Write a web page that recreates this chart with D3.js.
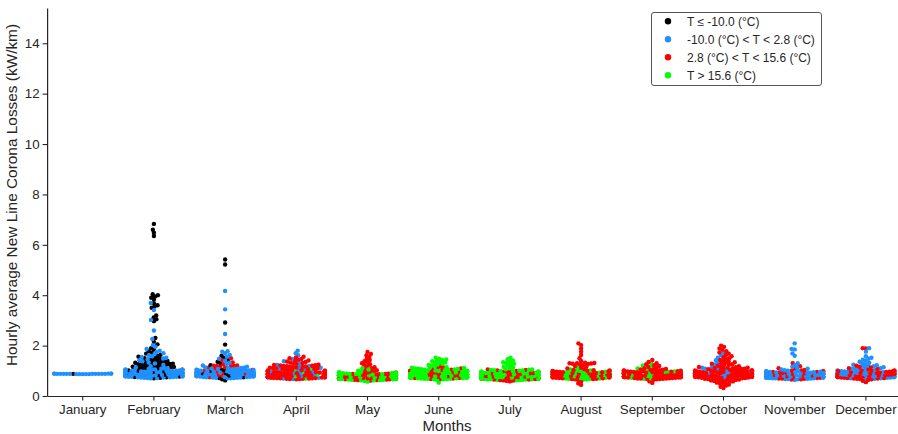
<!DOCTYPE html>
<html>
<head>
<meta charset="utf-8">
<script src="https://cdn.jsdelivr.net/npm/d3@7"></script>
<style>
  html, body { margin: 0; padding: 0; background: #fff; }
  svg { display: block; font-family: "Liberation Sans", Arial, sans-serif; }
</style>
</head>
<body>
<svg id="chart" width="898" height="434"></svg>
<script>
// Months on the category axis
const months = ["January", "February", "March", "April", "May", "June",
  "July", "August", "September", "October", "November", "December"];

// Temperature classes (legend order) and their colours
const classLabels = ["T \u2264 -10.0 (\u00B0C)", "-10.0 (\u00B0C) < T < 2.8 (\u00B0C)",
  "2.8 (\u00B0C) < T < 15.6 (\u00B0C)", "T > 15.6 (\u00B0C)"];
const classColors = ["#000000", "#1E90FF", "#FF0000", "#00FF00"];

const yTicks = [0, 2, 4, 6, 8, 10, 12, 14];

// Hourly average losses (kW/km), one list per month, for T <= -10.0 °C
const tLow = [
  [0.88],
  [0.70,0.72,0.74,0.75,0.77,0.80,0.83,0.85,0.89,0.90,0.93,0.96,0.98,1.01,1.04,1.07,1.09,
   1.10,1.12,1.13,1.15,1.16,1.17,1.19,1.20,1.21,1.22,1.24,1.25,1.26,1.27,1.28,1.30,1.31,1.32,1.34,1.35,
   1.37,1.39,1.41,1.43,1.45,1.48,1.50,1.53,1.56,1.60,1.64,1.68,1.72,1.78,1.84,1.90,2.05,2.15,2.30,
   2.97,3.05,3.12,3.20,3.50,3.55,3.60,3.68,3.83,3.90,3.95,4.00,4.04,6.35,6.48,6.60,6.83],
  [0.62,0.66,0.71,0.74,0.79,0.81,0.86,0.88,0.92,0.97,1.02,1.05,
   1.22,1.30,1.36,1.44,1.52,1.60,2.04,2.92,5.22,5.42],
  [], [], [], [], [], [], [], [], []
];

// -10.0 °C < T < 2.8 °C
const tCool = [
  [0.87,0.88,0.89,0.88,0.87,0.88,0.89,0.88,0.87,0.88,0.89,0.88,0.87,0.88,0.89,0.88,0.87,0.88,0.89,0.88],
  [0.70,0.71,0.71,0.72,0.73,0.73,0.74,0.74,0.75,0.76,0.76,0.76,0.77,0.78,0.78,0.79,0.79,0.80,0.81,0.81,
   0.82,0.82,0.82,0.83,0.84,0.84,0.85,0.85,0.86,0.87,0.87,0.88,0.88,0.88,0.89,0.89,0.90,0.91,0.91,0.92,
   0.92,0.93,0.94,0.94,0.94,0.95,0.95,0.96,0.97,0.97,0.98,0.99,0.99,1.00,1.00,1.01,1.02,1.02,1.03,1.04,
   1.05,1.05,1.06,1.07,1.08,1.09,1.10,
   1.14,1.18,1.23,1.29,1.33,1.38,1.42,1.46,1.49,1.52,1.55,1.58,1.62,1.66,1.70,1.75,1.80,1.87,1.95,2.02,
   2.26,2.60,3.02,3.41,3.69],
  [0.70,0.70,0.71,0.72,0.72,0.73,0.73,0.74,0.75,0.75,0.75,0.76,0.77,0.77,0.78,0.78,0.79,0.80,0.80,0.81,
   0.81,0.82,0.83,0.83,0.83,0.84,0.85,0.85,0.86,0.86,0.87,0.88,0.88,0.89,0.89,0.89,0.90,0.91,0.91,0.92,
   0.93,0.93,0.94,0.94,0.95,0.96,0.96,0.97,0.98,0.98,0.99,1.00,1.00,1.01,1.02,1.03,1.03,1.04,1.05,1.06,
   1.07,1.08,1.09,1.10,1.11,1.12,1.13,
   1.16,1.21,1.26,1.32,1.40,1.48,1.56,1.63,1.70,1.76,1.78,2.46,3.44,4.17],
  [0.67,0.69,0.72,0.74,0.77,0.80,0.83,0.85,0.89,0.91,0.94,0.96,0.99,1.02,1.05,1.08,1.12,1.15,1.19,1.23,
   1.30,1.38,1.46,1.62,1.70,1.80],
  [0.80],
  [], [], [], [],
  [0.72,0.75,0.80,0.83,0.87,0.89,0.92,0.97,0.99,1.01,1.06,1.08,1.12,1.14,1.25,1.33,1.42,1.52,1.62,1.72],
  [0.64,0.66,0.67,0.67,0.68,0.69,0.70,0.70,0.70,0.71,0.72,0.73,0.73,0.74,0.75,0.75,0.76,0.77,0.77,0.77,
   0.78,0.79,0.80,0.80,0.81,0.82,0.82,0.83,0.84,0.84,0.84,0.85,0.86,0.87,0.87,0.88,0.89,0.89,0.90,0.91,
   0.91,0.91,0.92,0.93,0.94,0.94,0.95,0.96,0.96,0.97,0.98,0.99,1.00,1.02,1.05,1.08,1.12,1.16,1.22,1.30,
   1.60,1.69,1.85,1.87,2.09],
  [0.68,0.69,0.70,0.70,0.72,0.73,0.74,0.74,0.75,0.77,0.78,0.78,0.80,0.81,0.82,0.82,0.84,0.85,0.86,0.86,
   0.88,0.89,0.90,0.90,0.92,0.93,0.94,0.94,0.96,0.97,0.98,0.98,1.00,1.01,1.02,
   1.04,1.06,1.08,1.10,1.12,1.14,1.16,1.18,1.20,1.22,1.24,1.26,1.29,1.32,1.36,1.40,1.44,1.48,1.52,1.58,
   1.76,1.90]
];

// 2.8 °C < T < 15.6 °C
const tMild = [
  [], [],
  [0.74,0.79,0.83,0.88,0.90,0.95,1.00,1.03,1.08,1.12,1.15,1.17,1.18,1.19,1.19,1.20,1.21,1.26,1.33,1.42,
   1.50],
  [0.66,0.67,0.67,0.68,0.68,0.69,0.70,0.70,0.71,0.71,0.71,0.72,0.73,0.73,0.74,0.75,0.75,0.76,0.76,0.76,
   0.77,0.78,0.78,0.79,0.79,0.80,0.81,0.81,0.82,0.82,0.82,0.83,0.84,0.84,0.85,0.86,0.86,0.87,0.87,0.88,
   0.88,0.88,0.89,0.90,0.90,0.91,0.92,0.92,0.93,0.93,0.93,0.94,0.95,0.95,0.96,0.97,0.97,0.98,0.98,0.99,
   1.00,1.00,1.01,1.02,1.03,1.04,1.05,1.06,1.07,1.08,1.09,1.10,1.11,1.12,1.13,1.14,1.15,1.16,1.17,1.18,
   1.19,1.20,1.21,1.22,1.23,1.24,
   1.27,1.29,1.31,1.33,1.35,1.37,1.39,1.41,1.44,1.47,1.50,1.53,1.56],
  [0.61,0.63,0.63,0.64,0.65,0.66,0.66,0.68,0.69,0.69,0.70,0.72,0.72,0.73,0.75,0.75,0.76,0.77,0.77,0.78,
   0.80,0.81,0.81,0.83,0.84,0.84,0.86,0.87,0.88,0.88,0.89,0.91,0.92,0.93,0.94,0.95,
   0.98,1.02,1.06,1.10,1.14,1.18,1.22,1.26,1.30,1.34,1.38,1.43,1.48,1.56,1.62,1.67,1.75],
  [0.66,0.67,0.69,0.71,0.71,0.73,0.75,0.76,0.79,0.79,0.81,0.82,0.84,0.87,0.87,0.89,0.90,0.92,0.94,0.95,
   0.97,0.98,1.00,1.02,1.04,1.06,1.09,1.11,1.13,1.18],
  [0.58,0.60,0.61,0.62,0.63,0.65,0.65,0.67,0.68,0.68,0.70,0.72,0.72,0.74,0.75,0.77,0.77,0.79,0.80,0.80,
   0.82,0.83,0.85,0.85,0.87,0.88,0.90,0.90,0.91,0.93,0.94,0.96,0.96,0.97,0.99,1.01,1.03,1.05],
  [0.44,0.50,0.57,0.63,0.66,0.67,0.67,0.68,0.70,0.70,0.71,0.72,0.73,0.73,0.75,0.76,0.76,0.77,0.78,0.79,
   0.79,0.81,0.82,0.82,0.83,0.84,0.85,0.85,0.87,0.88,0.88,0.89,0.90,0.91,0.91,0.93,0.94,0.94,0.95,0.96,
   0.97,0.97,0.99,1.00,1.01,1.02,1.03,
   1.06,1.09,1.12,1.16,1.19,1.22,1.25,1.27,1.28,1.29,1.30,1.30,1.31,1.32,
   1.39,1.50,1.63,1.76,1.89,2.02,2.09],
  [0.52,0.58,0.64,0.66,0.67,0.67,0.68,0.69,0.69,0.69,0.70,0.71,0.71,0.72,0.73,0.73,0.74,0.74,0.75,0.76,
   0.76,0.76,0.77,0.78,0.78,0.79,0.80,0.80,0.81,0.81,0.82,0.83,0.83,0.83,0.84,0.85,0.85,0.86,0.87,0.87,
   0.88,0.88,0.89,0.90,0.90,0.90,0.91,0.92,0.92,0.93,0.94,0.94,0.95,0.96,0.96,0.97,0.98,0.98,0.99,1.00,
   1.00,1.01,1.02,1.03,1.04,1.05,1.06,1.07,
   1.10,1.13,1.16,1.19,1.22,1.26,1.30,1.35,1.43],
  [0.32,0.37,0.41,0.45,0.48,0.51,0.53,0.55,0.57,0.58,0.60,0.61,0.62,0.63,0.64,0.65,0.66,0.67,0.68,0.69,
   0.70,0.70,0.71,0.72,0.72,0.72,0.73,0.74,0.74,0.75,0.76,0.76,0.77,0.77,0.77,0.78,0.79,0.79,0.80,0.81,
   0.81,0.82,0.82,0.82,0.83,0.84,0.84,0.85,0.86,0.86,0.86,0.87,0.88,0.88,0.89,0.90,0.90,0.91,0.91,0.91,
   0.92,0.93,0.93,0.94,0.95,0.95,0.96,0.96,0.96,0.97,0.98,0.98,0.99,1.00,1.00,1.01,1.02,1.03,1.04,1.05,
   1.06,1.07,1.08,1.09,1.10,1.11,1.12,1.13,1.14,1.15,1.16,
   1.18,1.20,1.22,1.24,1.26,1.28,1.30,1.32,1.34,1.37,1.40,1.43,1.46,1.50,1.54,1.58,1.63,1.68,1.73,1.78,
   1.84,1.89,1.95,2.00],
  [0.65,0.66,0.68,0.69,0.69,0.71,0.72,0.74,0.74,0.76,0.78,0.78,0.79,0.81,0.81,0.83,0.85,0.85,0.86,0.88,
   0.90,0.90,0.92,0.93,0.95,0.95,0.97,0.98,1.00,1.01,1.03,1.06,1.10,1.18,1.30],
  [0.55,0.60,0.64,0.66,0.67,0.68,0.69,0.69,0.71,0.71,0.72,0.73,0.75,0.76,0.76,0.77,0.79,0.79,0.80,0.81,
   0.83,0.83,0.84,0.85,0.87,0.87,0.88,0.89,0.91,0.91,0.92,0.93,0.95,0.95,0.96,0.97,0.99,0.99,1.00,1.01,
   1.03,1.05,1.07,1.10,1.13,1.16,1.20,1.89,1.90]
];

// T > 15.6 °C
const tWarm = [
  [], [], [],
  [0.69,0.75,0.78,0.84,0.87,0.92,0.97,1.01,1.08],
  [0.57,0.60,0.62,0.62,0.63,0.64,0.64,0.65,0.66,0.67,0.67,0.68,0.68,0.69,0.70,0.71,0.71,0.72,0.73,0.73,
   0.74,0.74,0.75,0.76,0.76,0.77,0.78,0.79,0.79,0.80,0.80,0.81,0.82,0.82,0.83,0.84,0.85,0.85,0.86,0.87,
   0.87,0.88,0.89,0.90,0.90,0.91,0.92,0.93,0.94,0.96,1.00,1.05,1.10],
  [0.53,0.64,0.66,0.66,0.67,0.68,0.68,0.68,0.69,0.70,0.70,0.71,0.72,0.72,0.73,0.74,0.74,0.74,0.75,0.76,
   0.77,0.77,0.78,0.78,0.79,0.80,0.80,0.80,0.81,0.82,0.83,0.83,0.84,0.85,0.85,0.86,0.86,0.87,0.88,0.88,
   0.88,0.89,0.90,0.91,0.91,0.92,0.93,0.93,0.94,0.95,0.96,0.96,0.97,0.98,0.99,0.99,1.00,1.01,1.02,1.03,
   1.04,1.05,1.06,1.07,1.08,1.09,1.10,1.11,1.12,1.14,
   1.17,1.20,1.23,1.25,1.28,1.30,1.33,1.35,1.38,1.40,1.43,1.45,1.48,1.52],
  [0.62,0.63,0.64,0.64,0.65,0.66,0.66,0.66,0.67,0.68,0.69,0.69,0.70,0.71,0.71,0.72,0.73,0.73,0.73,0.74,
   0.75,0.76,0.76,0.77,0.78,0.78,0.79,0.80,0.81,0.81,0.81,0.82,0.83,0.84,0.84,0.85,0.86,0.86,0.87,0.88,
   0.89,0.89,0.90,0.91,0.92,0.92,0.93,0.94,0.95,0.95,0.96,0.97,0.98,0.99,1.00,1.01,1.02,1.03,1.04,1.05,
   1.06,
   1.10,1.13,1.16,1.20,1.24,1.28,1.31,1.34,1.37,1.41,1.46,1.52],
  [0.65,0.66,0.67,0.68,0.69,0.69,0.71,0.72,0.74,0.74,0.75,0.77,0.78,0.78,0.80,0.80,0.81,0.83,0.84,0.86,
   0.86,0.87,0.89,0.90,0.92,0.92,0.93,0.95,0.96,0.98,0.98,0.99,1.00,1.01,1.02,1.05,1.14],
  [0.68,0.70,0.72,0.75,0.77,0.79,0.82,0.84,0.86,0.89,0.91,0.93,0.95,0.97,0.99,1.01,1.04,1.09,1.15,1.21,
   1.28],
  [], [], []
];

const classData = [tLow, tCool, tMild, tWarm];

// ---- layout ----
const svg = d3.select("#chart");
const ink = "#262626";
const plotLeft = 47.1, plotBottom = 396, plotTop = 8;

const x = d3.scaleBand().domain(months).range([plotLeft, plotLeft + 71.2 * 12]).padding(0);
const y = d3.scaleLinear().domain([0, 15.4]).range([plotBottom, plotTop]);

const R = 2.2;          // drawn dot radius
const D = 3.2;          // spacing used when packing the swarm
const HALF = 0.4 * x.bandwidth();   // swarm half width (gutter)

// Beeswarm: place points in value order at the smallest offset that avoids
// overlapping anything already placed; spill-over is pinned at the gutter.
function swarm(points, cx) {
  const pts = points.map((p, i) => Object.assign({}, p, { i, py: y(p.v), dx: 0 }));
  const order = pts.slice().sort((a, b) => a.v - b.v || a.i - b.i);
  const placed = [];
  for (const p of order) {
    const near = placed.filter(q => Math.abs(q.py - p.py) < D);
    const cands = [0];
    for (const q of near) {
      const h = Math.sqrt(D * D - (q.py - p.py) ** 2);
      cands.push(q.dx - h, q.dx + h);
    }
    cands.sort((a, b) => Math.abs(a) - Math.abs(b) || a - b);
    let best = cands[0];
    for (const c of cands) {
      if (near.every(q => (q.dx - c) ** 2 + (q.py - p.py) ** 2 >= D * D - 1e-6)) { best = c; break; }
    }
    p.dx = best;
    placed.push(p);
  }
  pts.forEach(p => { p.px = cx + Math.max(-HALF, Math.min(HALF, p.dx)); });
  return pts;
}

// ---- axes ----
const yAxis = svg.append("g")
  .attr("transform", `translate(${plotLeft},0)`)
  .call(d3.axisLeft(y).tickValues(yTicks).tickFormat(d3.format("d")).tickSize(4.5).tickSizeOuter(0).tickPadding(3));

const xAxis = svg.append("g")
  .attr("transform", `translate(0,${plotBottom})`)
  .call(d3.axisBottom(x).tickSize(4.5).tickSizeOuter(0).tickPadding(4));

[yAxis, xAxis].forEach(g => {
  g.select(".domain").attr("stroke", ink).attr("stroke-width", 1.2);
  g.selectAll(".tick line").attr("stroke", ink).attr("stroke-width", 1.1);
  g.selectAll(".tick text").attr("fill", ink).style("font-size", "13.3px")
    .style("font-family", "'Liberation Sans', Arial, sans-serif");
});

svg.append("text")
  .attr("transform", "translate(17,195) rotate(-90)")
  .attr("text-anchor", "middle")
  .attr("fill", ink)
  .style("font-size", "15.4px")
  .text("Hourly average New Line Corona Losses (kW/km)");

svg.append("text")
  .attr("x", 447).attr("y", 431)
  .attr("text-anchor", "middle")
  .attr("fill", ink)
  .style("font-size", "15px")
  .text("Months");

// ---- swarms ----
const dots = svg.append("g");
months.forEach((m, mi) => {
  // interleave the classes so that colours mix as in time order
  const lists = classData.map((arr, ci) => arr[mi].map(v => ({ v, c: ci })));
  const n = d3.max(lists, l => l.length);
  const pts = [];
  for (let k = 0; k < n; k++) lists.forEach(l => { if (k < l.length) pts.push(l[k]); });
  const cx = x(m) + x.bandwidth() / 2;
  const placed = swarm(pts, cx);
  dots.selectAll(null).data(placed).enter().append("circle")
    .attr("cx", d => d.px)
    .attr("cy", d => d.py)
    .attr("r", R)
    .attr("fill", d => classColors[d.c]);
});

// ---- legend ----
const lg = svg.append("g").attr("transform", "translate(651.5,12.5)");
lg.append("rect")
  .attr("width", 170).attr("height", 73).attr("rx", 2.5)
  .attr("fill", "#fff").attr("stroke", "#555").attr("stroke-width", 1);
classLabels.forEach((lab, i) => {
  const row = lg.append("g").attr("transform", `translate(0,${8.7 + i * 18})`);
  row.append("circle").attr("cx", 16.5).attr("cy", 0).attr("r", 3.2).attr("fill", classColors[i]);
  row.append("text").attr("x", 35.5).attr("y", 4.3)
    .attr("fill", ink).style("font-size", "12px").text(lab);
});
</script>
</body>
</html>
